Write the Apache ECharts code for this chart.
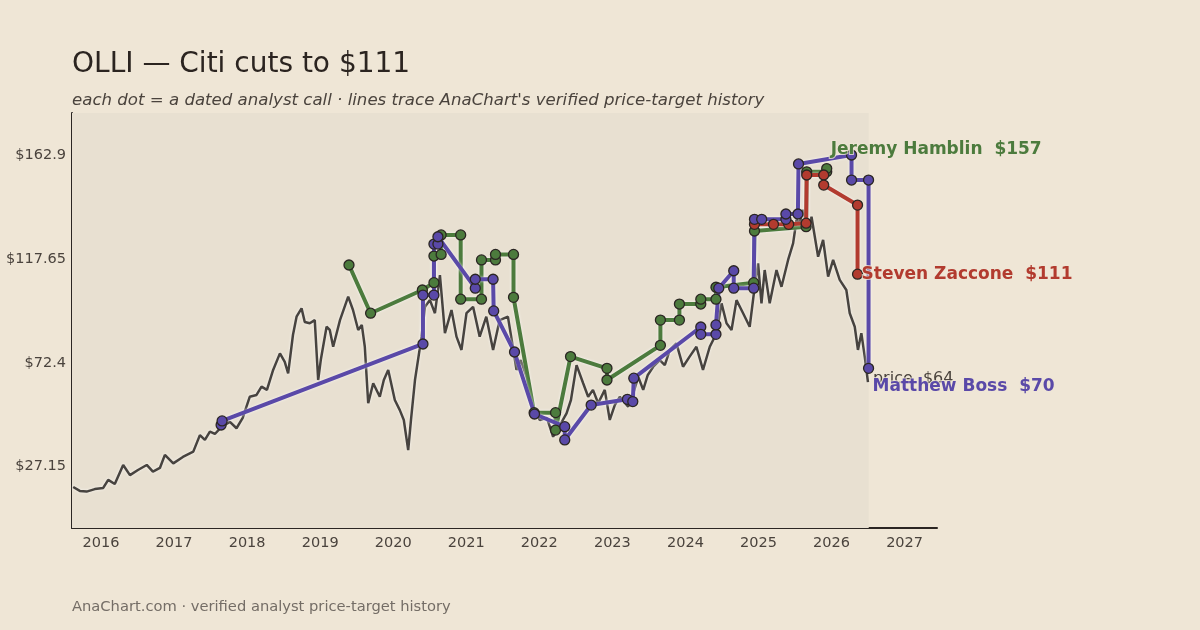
<!DOCTYPE html>
<html>
<head>
<meta charset="utf-8">
<script src="https://cdn.jsdelivr.net/npm/echarts@6/dist/echarts.min.js"></script>
<style>
  html, body { margin: 0; padding: 0; background: #efe6d6; }
  #chart { width: 1200px; height: 630px; }
</style>
</head>
<body>
<div id="chart"></div>
<script>
// 股價（收盤）走勢
const priceDates = [
  "2015-08-15", "2015-09-17", "2015-10-21", "2015-12-01", "2016-01-12", "2016-02-06", "2016-03-10", "2016-04-21",
  "2016-05-25", "2016-07-04", "2016-08-17", "2016-09-17", "2016-10-22", "2016-11-16", "2016-12-28", "2017-02-14",
  "2017-04-07", "2017-05-10", "2017-06-04", "2017-06-29", "2017-07-24", "2017-08-27", "2017-10-07", "2017-11-09",
  "2017-12-10", "2018-01-14", "2018-02-17", "2018-03-14", "2018-04-10", "2018-05-11", "2018-06-14", "2018-07-08",
  "2018-07-25", "2018-08-18", "2018-09-05", "2018-09-30", "2018-10-16", "2018-11-10", "2018-12-05", "2018-12-22",
  "2019-01-04", "2019-02-02", "2019-02-18", "2019-03-07", "2019-04-10", "2019-05-21", "2019-06-14", "2019-07-10",
  "2019-07-28", "2019-08-12", "2019-08-29", "2019-09-23", "2019-10-26", "2019-11-15", "2019-12-07", "2020-01-09",
  "2020-02-03", "2020-02-23", "2020-03-16", "2020-03-30", "2020-04-19", "2020-05-22", "2020-06-08", "2020-07-03",
  "2020-07-28", "2020-08-22", "2020-09-16", "2020-10-19", "2020-11-13", "2020-12-08", "2021-01-02", "2021-02-04",
  "2021-03-09", "2021-04-11", "2021-05-15", "2021-06-17", "2021-07-28", "2021-08-16", "2021-09-09", "2021-09-30",
  "2021-10-29", "2021-12-01", "2022-01-03", "2022-02-08", "2022-03-11", "2022-04-14", "2022-05-17", "2022-06-08",
  "2022-07-06", "2022-08-08", "2022-09-02", "2022-09-26", "2022-10-22", "2022-11-24", "2022-12-19", "2023-01-13",
  "2023-02-07", "2023-03-21", "2023-04-13", "2023-05-10", "2023-06-04", "2023-06-27", "2023-07-24", "2023-08-26",
  "2023-09-20", "2023-10-15", "2023-11-17", "2023-12-20", "2024-01-22", "2024-02-25", "2024-03-29", "2024-05-02",
  "2024-06-05", "2024-06-30", "2024-07-25", "2024-08-19", "2024-09-13", "2024-10-16", "2024-11-18", "2024-12-13",
  "2024-12-30", "2025-01-16", "2025-02-01", "2025-02-26", "2025-04-01", "2025-04-26", "2025-05-29", "2025-06-23",
  "2025-07-10", "2025-07-26", "2025-08-11", "2025-09-06", "2025-09-23", "2025-10-26", "2025-11-20", "2025-12-15",
  "2026-01-09", "2026-02-11", "2026-03-16", "2026-04-02", "2026-04-27", "2026-05-13", "2026-05-30", "2026-06-16",
  "2026-07-02"
];
const priceValues = [
  18.3, 16.6, 16.3, 17.4, 17.9, 21.4, 19.6, 27.9,
  23.5, 25.7, 27.9, 25.0, 26.6, 32.3, 28.6, 31.4,
  33.7, 40.9, 38.8, 42.4, 41.4, 44.6, 46.7, 43.9,
  48.4, 57.6, 58.4, 62.0, 60.6, 69.3, 76.5, 72.8,
  67.8, 84.5, 92.5, 96.1, 90.2, 89.6, 91.0, 64.9,
  73.6, 88.1, 86.7, 79.4, 91.0, 101.2, 95.4, 86.7,
  88.9, 79.4, 54.8, 63.5, 57.6, 64.9, 69.3, 56.2,
  51.8, 47.5, 34.4, 47.5, 64.9, 83.8, 96.8, 99.7,
  94.0, 110.6, 85.3, 95.4, 83.8, 78.0, 94.0, 96.8,
  83.8, 92.5, 78.0, 91.0, 92.5, 82.3, 69.3, 73.6,
  66.3, 53.3, 47.5, 48.4, 40.2, 45.3, 50.4, 56.2,
  71.4, 63.5, 57.6, 60.6, 54.8, 60.6, 47.5, 54.0,
  57.6, 53.3, 58.4, 66.3, 60.6, 67.1, 70.7, 73.6,
  71.4, 78.0, 80.9, 70.7, 75.1, 79.4, 69.3, 79.4,
  85.3, 98.3, 89.6, 86.7, 99.7, 94.0, 88.1, 105.5,
  115.7, 98.3, 112.8, 98.3, 112.8, 105.5, 117.2, 124.4,
  134.6, 133.2, 139.0, 130.2, 136.0, 118.6, 125.9, 109.9,
  117.2, 108.5, 104.1, 94.0, 88.1, 78.0, 85.3, 75.1,
  64.0
];

// 分析師目標價紀錄
const hamblinDates = [
  "2019-05-25", "2019-09-10", "2020-05-26", "2020-07-23", "2020-07-23", "2020-08-28", "2020-08-28", "2020-12-04",
  "2020-12-04", "2021-03-18", "2021-03-18", "2021-05-27", "2021-05-27", "2021-08-25", "2021-08-25", "2021-12-06",
  "2022-03-23", "2022-03-23", "2022-06-06", "2022-12-05", "2022-12-05", "2023-08-29", "2023-08-29", "2023-12-02",
  "2023-12-02", "2024-03-18", "2024-03-18", "2024-06-02", "2024-06-02", "2024-12-08", "2024-12-12", "2025-08-27",
  "2025-08-30", "2025-12-08", "2025-12-08"
];
const hamblinTargets = [
  115.0, 94.0, 104.1, 107.3, 118.9, 119.6, 128.1, 128.1,
  100.1, 100.1, 117.2, 117.2, 119.6, 119.6, 100.9, 50.7,
  50.7, 43.1, 75.1, 70.0, 64.9, 80.0, 91.0, 91.0,
  98.0, 98.0, 100.1, 100.1, 105.3, 107.3, 129.8, 131.7,
  155.6, 155.6, 157
];

const zacconeDates = [
  "2024-12-12", "2025-03-17", "2025-06-01", "2025-08-27", "2025-08-30", "2025-11-23", "2025-11-23", "2026-05-11",
  "2026-05-11"
];
const zacconeTargets = [132.7, 132.7, 132.7, 133.2, 154.2, 154.2, 149.8, 141.1, 111];

const bossDates = [
  "2017-08-24", "2017-08-29", "2020-05-29", "2020-05-29", "2020-07-23", "2020-07-23", "2020-08-12", "2020-08-12",
  "2021-02-15", "2021-02-15", "2021-05-15", "2021-05-18", "2021-08-30", "2021-12-08", "2022-05-08", "2022-05-08",
  "2022-09-17", "2023-03-17", "2023-04-13", "2023-04-18", "2024-03-18", "2024-03-18", "2024-06-02", "2024-06-02",
  "2024-06-16", "2024-08-30", "2024-08-30", "2024-12-08", "2024-12-12", "2025-01-17", "2025-05-18", "2025-05-18",
  "2025-07-17", "2025-07-20", "2026-04-11", "2026-04-11", "2026-07-05", "2026-07-05"
];
const bossTargets = [
  45.3, 47.1, 80.6, 101.9, 101.9, 124.1, 124.1, 127.3,
  104.9, 108.8, 108.8, 95.0, 77.1, 50.1, 44.6, 38.8,
  54.0, 56.5, 55.5, 65.7, 88.0, 84.8, 84.8, 88.9,
  104.9, 112.5, 104.9, 104.9, 134.9, 134.9, 134.9, 137.2,
  137.2, 159.0, 162.9, 152.0, 152.0, 70
];

const yTicks = [27.15, 72.4, 117.65, 162.9];
const yearTicks = [2016, 2017, 2018, 2019, 2020, 2021, 2022, 2023, 2024, 2025, 2026, 2027];

const FONT = "DejaVu Sans";
const BG = "#efe6d6";

// 日期 -> 小數年份 (x 軸用 value 軸)
function toYear(s) {
  const d = new Date(s + "T00:00:00Z");
  const y = d.getUTCFullYear();
  const start = Date.UTC(y, 0, 1);
  const end = Date.UTC(y + 1, 0, 1);
  return y + (d.getTime() - start) / (end - start);
}
const zip = (xs, ys) => xs.map((d, i) => [toYear(d), ys[i]]);

function analystSeries(name, dates, targets, color, offset) {
  const last = targets[targets.length - 1];
  return {
    name: name,
    type: "line",
    data: zip(dates, targets),
    symbol: "circle",
    symbolSize: 10,
    z: 4,
    lineStyle: { color: color, width: 4, shadowColor: "rgba(255,255,255,0.8)", shadowBlur: 3 },
    itemStyle: { color: color, borderColor: "#2b2623", borderWidth: 1.3 },
    endLabel: {
      show: true,
      formatter: name + "  $" + last,
      color: color,
      fontFamily: FONT,
      fontWeight: "bold",
      fontSize: 17,
      distance: 4,
      offset: offset,
      textBorderColor: "rgba(239,230,214,0.8)",
      textBorderWidth: 2,
    },
    emphasis: { disabled: true },
  };
}

const chart = echarts.init(document.getElementById("chart"), null, { renderer: "canvas" });

const xMin = toYear("2015-08-09");
const xMax = toYear("2027-06-12");
const yMin = 0.45;
const yMax = 181.2;

chart.setOption({
  backgroundColor: BG,
  animation: false,
  title: [
    {
      text: "OLLI — Citi cuts to $111",
      left: 72,
      top: 51,
      padding: 0,
      textStyle: { fontFamily: FONT, fontSize: 28, fontWeight: "normal", color: "#2b2420" },
    },
    {
      text: "each dot = a dated analyst call · lines trace AnaChart's verified price-target history",
      left: 72,
      top: 92,
      padding: 0,
      textStyle: { fontFamily: FONT, fontSize: 16.6, fontStyle: "italic", fontWeight: "normal", color: "#4a433d" },
    },
    {
      text: "AnaChart.com · verified analyst price-target history",
      left: 72,
      top: 600,
      padding: 0,
      textStyle: { fontFamily: FONT, fontSize: 14.7, fontWeight: "normal", color: "#746d66" },
    },
  ],
  grid: { left: 72, right: 263, top: 113, bottom: 102 },
  xAxis: {
    type: "value",
    min: xMin,
    max: xMax,
    splitLine: { show: false },
    axisTick: { show: false },
    axisLine: { show: true, lineStyle: { color: "#2b2623", width: 2 } },
    axisLabel: {
      customValues: yearTicks,
      formatter: (v) => String(Math.round(v)),
      fontFamily: FONT,
      fontSize: 14.5,
      color: "#4a433d",
      margin: 8,
    },
  },
  yAxis: {
    type: "value",
    min: yMin,
    max: yMax,
    splitLine: { show: false },
    axisTick: { show: false },
    axisLine: { show: true, lineStyle: { color: "#2b2623", width: 2 } },
    axisLabel: {
      customValues: yTicks,
      formatter: (v) => "$" + v,
      fontFamily: FONT,
      fontSize: 14.5,
      color: "#4a433d",
      margin: 6,
    },
  },
  series: [
    {
      name: "price",
      type: "line",
      data: zip(priceDates, priceValues),
      showSymbol: false,
      z: 2,
      lineStyle: { color: "#47433f", width: 2.5, shadowColor: "rgba(255,255,255,0.7)", shadowBlur: 3 },
      endLabel: {
        show: true,
        formatter: "price  $" + priceValues[priceValues.length - 1].toFixed(0),
        color: "#4a433d",
        fontFamily: FONT,
        fontSize: 16,
        distance: 5,
        offset: [0, -3],
      },
      markArea: {
        silent: true,
        itemStyle: { color: "#e8e0d1" },
        data: [[
          { coord: [xMin, yMin] },
          { coord: [toYear("2026-07-06"), yMax] },
        ]],
      },
      emphasis: { disabled: true },
    },
    analystSeries("Jeremy Hamblin", hamblinDates, hamblinTargets, "#4c7b3d", [0, -19]),
    analystSeries("Steven Zaccone", zacconeDates, zacconeTargets, "#b23b2f", [0, 0]),
    analystSeries("Matthew Boss", bossDates, bossTargets, "#5a49a8", [0, 18]),
  ],
});
</script>
</body>
</html>
